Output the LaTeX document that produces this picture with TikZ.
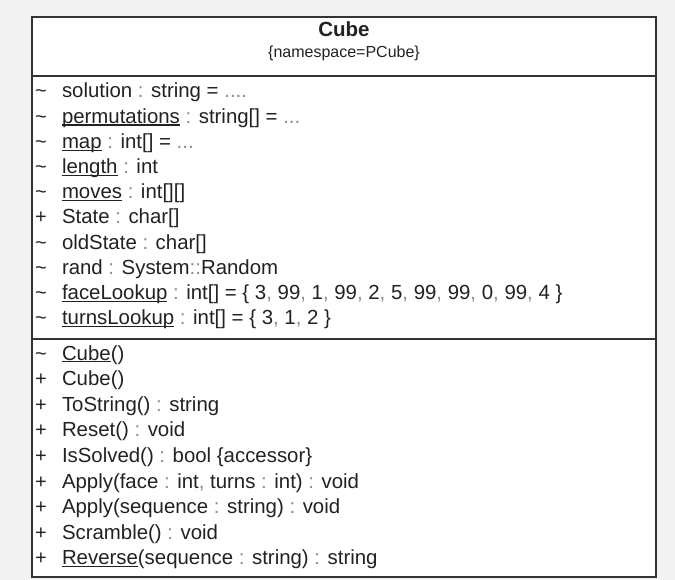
\documentclass[tikz,border=0pt]{standalone}
\usepackage{fontspec}
\setmainfont{Liberation Sans}
\definecolor{bg}{HTML}{F2F2F2}
\definecolor{ink}{HTML}{222222}
\definecolor{dim}{HTML}{8C8C8C}
\definecolor{frame}{HTML}{333333}
\newcommand\ulx[1]{\setbox0\hbox{#1}\rlap{\rule[-2.4pt]{\wd0}{1.1pt}}\box0\relax}
\newcommand\cn{{\color{dim}:}}
\newcommand\cm{{\color{dim},}}
\newcommand\dd[1]{{\color{dim}#1}}
\begin{document}
\begin{tikzpicture}[x=1pt,y=-1pt,
  every node/.style={inner sep=0pt, outer sep=0pt, text=ink},
  vis/.style={anchor=base west, font=\fontsize{20}{24}\selectfont},
  member/.style={anchor=base west, font=\fontsize{20.4}{24}\selectfont},
  titletext/.style={anchor=base, font=\fontsize{20.5}{24}\selectfont\bfseries},
  nstext/.style={anchor=base, font=\fontsize{16}{19}\selectfont},
  boxline/.style={line width=1.6pt, draw=frame}]
\useasboundingbox[fill=bg] (0,0) rectangle (675,580);
\draw[boxline, fill=white] (32,17) rectangle (656,577);
\draw[boxline] (32,76) -- (656,76);
\draw[boxline] (32,339) -- (656,339);

\node[titletext] (title) at (344,37) {Cube};
\node[nstext] (ns) at (344,58) {\{namespace=PCube\}};

% attributes
\node[vis] (va1) at (35,98) {\textasciitilde};
\node[member] (a1) at (62,98) {solution \cn{} string = \dd{....}};
\node[vis] (va2) at (35,123.2) {\textasciitilde};
\node[member] (a2) at (62,123.2) {\ulx{permutations} \cn{} string[] = \dd{...}};
\node[vis] (va3) at (35,148.4) {\textasciitilde};
\node[member] (a3) at (62,148.4) {\ulx{map} \cn{} int[] = \dd{...}};
\node[vis] (va4) at (35,173.6) {\textasciitilde};
\node[member] (a4) at (62,173.6) {\ulx{length} \cn{} int};
\node[vis] (va5) at (35,198.8) {\textasciitilde};
\node[member] (a5) at (62,198.8) {\ulx{moves} \cn{} int[][]};
\node[vis] (va6) at (35,224) {+};
\node[member] (a6) at (62,224) {State \cn{} char[]};
\node[vis] (va7) at (35,249.2) {\textasciitilde};
\node[member] (a7) at (62,249.2) {oldState \cn{} char[]};
\node[vis] (va8) at (35,274.4) {\textasciitilde};
\node[member] (a8) at (62,274.4) {rand \cn{} System\cn\cn Random};
\node[vis] (va9) at (35,299.6) {\textasciitilde};
\node[member] (a9) at (62,299.6) {\ulx{faceLookup} \cn{} int[] = \{ 3\cm{} 99\cm{} 1\cm{} 99\cm{} 2\cm{} 5\cm{} 99\cm{} 99\cm{} 0\cm{} 99\cm{} 4 \}};
\node[vis] (va10) at (35,324.8) {\textasciitilde};
\node[member] (a10) at (62,324.8) {\ulx{turnsLookup} \cn{} int[] = \{ 3\cm{} 1\cm{} 2 \}};

% methods
\node[vis] (vm1) at (35,360) {\textasciitilde};
\node[member] (m1) at (62,360) {\ulx{Cube}()};
\node[vis] (vm2) at (35,385.6) {+};
\node[member] (m2) at (62,385.6) {Cube()};
\node[vis] (vm3) at (35,411.2) {+};
\node[member] (m3) at (62,411.2) {ToString() \cn{} string};
\node[vis] (vm4) at (35,436.8) {+};
\node[member] (m4) at (62,436.8) {Reset() \cn{} void};
\node[vis] (vm5) at (35,462.4) {+};
\node[member] (m5) at (62,462.4) {IsSolved() \cn{} bool \{accessor\}};
\node[vis] (vm6) at (35,488) {+};
\node[member] (m6) at (62,488) {Apply(face \cn{} int\cm{} turns \cn{} int) \cn{} void};
\node[vis] (vm7) at (35,513.6) {+};
\node[member] (m7) at (62,513.6) {Apply(sequence \cn{} string) \cn{} void};
\node[vis] (vm8) at (35,539.2) {+};
\node[member] (m8) at (62,539.2) {Scramble() \cn{} void};
\node[vis] (vm9) at (35,564.8) {+};
\node[member] (m9) at (62,564.8) {\ulx{Reverse}(sequence \cn{} string) \cn{} string};
\end{tikzpicture}
\end{document}
